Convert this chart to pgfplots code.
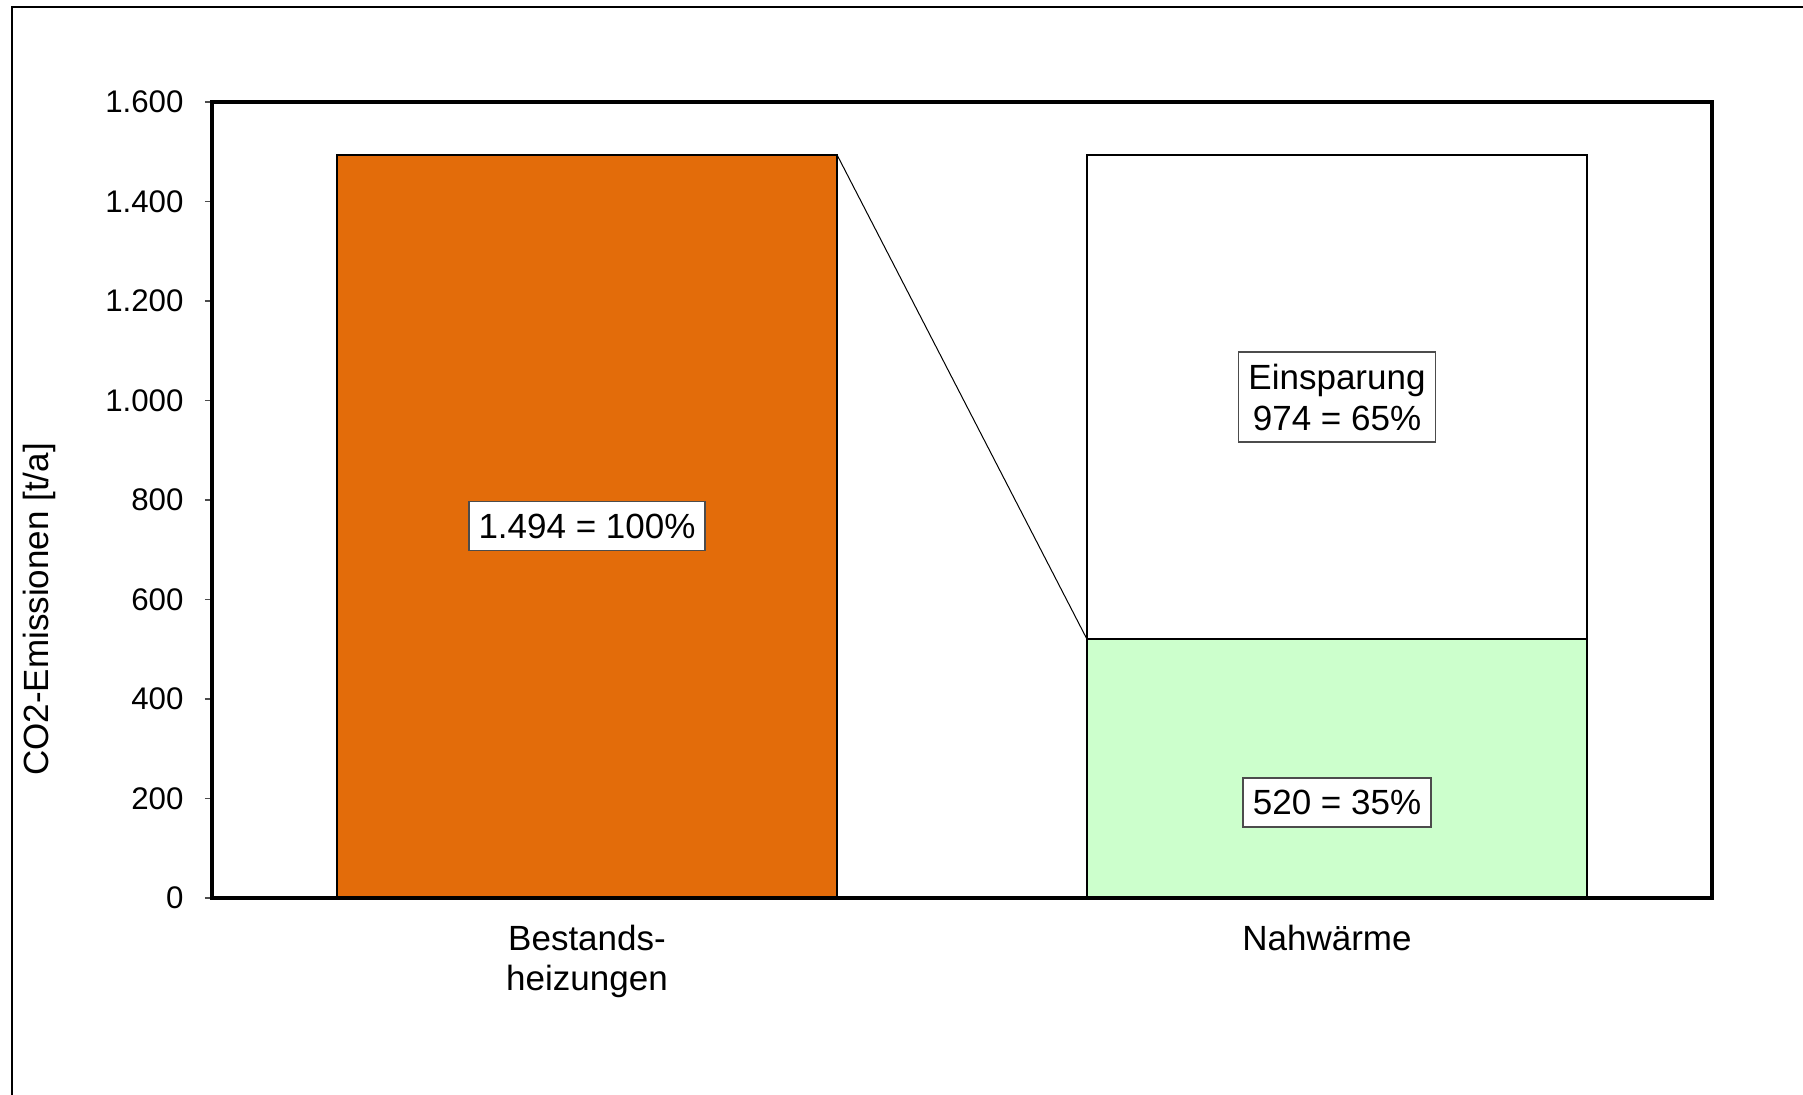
\documentclass[border=0pt]{standalone}
\usepackage{pgfplots}
\pgfplotsset{compat=1.18}
\usepackage{fontspec}
\setmainfont{Liberation Sans}
\definecolor{barorange}{RGB}{227,108,10}
\definecolor{bargreen}{RGB}{204,255,204}
\begin{document}
\begin{tikzpicture}
\fontsize{14}{16.4}\selectfont
\draw[line width=1pt] (4.8pt,-20pt) -- (4.8pt,435.2pt) -- (760pt,435.2pt);
\begin{axis}[
  at={(84.8pt,78.8pt)}, anchor=south west,
  scale only axis, width=600pt, height=318.4pt,
  xmin=-0.5, xmax=1.5, ymin=0, ymax=1600,
  axis line style={line width=1.6pt, black},
  axis on top,
  xtick={0,1},
  xticklabels={{Bestands-\\heizungen},{Nahwärme\hspace*{8pt}}},
  xtick style={draw=none},
  xticklabel style={font=\fontsize{14}{16}\selectfont, align=center, anchor=north, inner sep=0pt, yshift=-7.7pt},
  ytick={0,200,...,1600},
  ytick pos=left,
  tick align=outside,
  major tick length=2.8pt,
  ytick style={line width=0.5pt, black!70},
  yticklabel style={font=\fontsize{12.5}{14}\selectfont, anchor=east, inner sep=0pt, xshift=-8.4pt},
  /pgf/number format/.cd, 1000 sep={.}, assume math mode=true,
  /pgfplots/.cd,
  ylabel={CO2-Emissionen [t/a]},
  ylabel style={font=\fontsize{14}{16}\selectfont, at={(axis description cs:-0.1153,0.3624)}, anchor=center, rotate=0},
]
\addplot[ybar, bar width=0.6667, bar shift=0pt, fill=barorange, draw=black, line width=0.9pt] coordinates {(0,1494)};
\addplot[ybar, bar width=0.6667, bar shift=0pt, fill=white, draw=black, line width=0.9pt] coordinates {(1,1494)};
\addplot[ybar, bar width=0.6667, bar shift=0pt, fill=bargreen, draw=black, line width=0.9pt] coordinates {(1,520)};
\addplot[sharp plot, mark=none, black, line width=0.4pt] coordinates {(0.3333,1494) (0.6667,520)};
\node[draw=black!70, fill=white, line width=0.5pt, minimum width=94.4pt, minimum height=19.6pt, inner sep=1pt] at (axis cs:0,747) {1.494 = 100\%};
\node[draw=black!70, fill=white, line width=0.5pt, minimum width=78.8pt, minimum height=36pt, inner sep=1pt, align=center, font=\fontsize{14}{16.4}\selectfont] at (axis cs:1,1007) {Einsparung\\974 = 65\%};
\node[draw=black!70, fill=white, line width=0.5pt, minimum width=75.2pt, minimum height=19.6pt, inner sep=1pt] at (axis cs:1,192) {520 = 35\%};
\end{axis}
\pgfresetboundingbox
\useasboundingbox (0,0) rectangle (721.2pt,438pt);
\end{tikzpicture}
\end{document}
